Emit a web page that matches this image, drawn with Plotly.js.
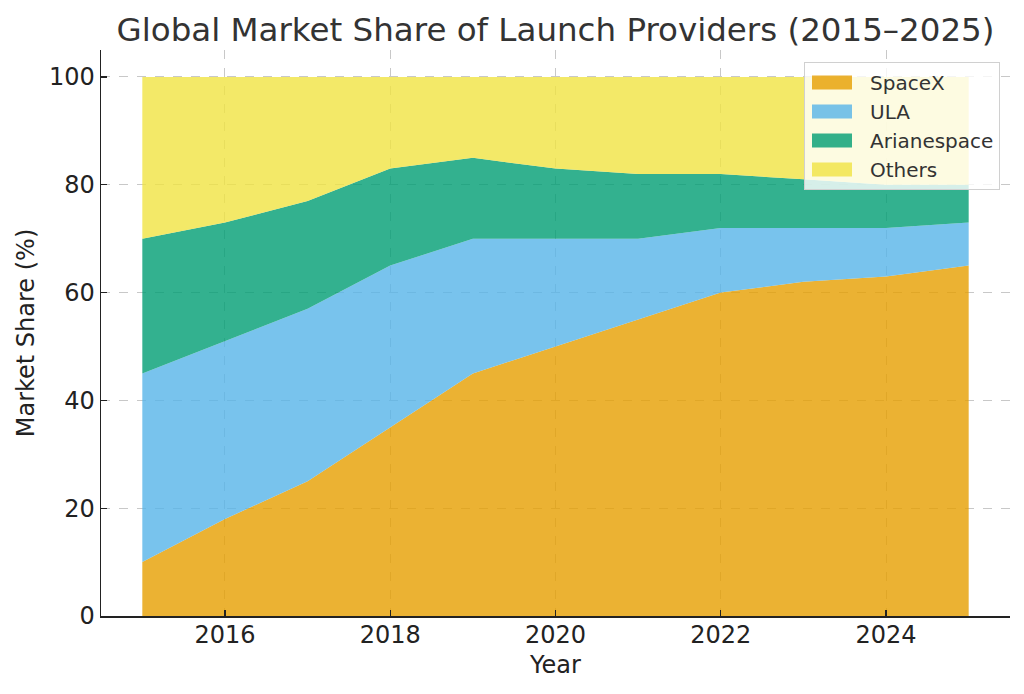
<!DOCTYPE html>
<html>
<head>
<meta charset="utf-8">
<script src="https://cdn.plot.ly/plotly-3.0.1.min.js"></script>
<style>html,body{margin:0;padding:0;background:#fff;}#chart{width:1024px;height:694px;}</style>
</head>
<body>
<div id="chart"></div>
<script>
const years = [2015, 2016, 2017, 2018, 2019, 2020, 2021, 2022, 2023, 2024, 2025];
const spacex = [10, 18, 25, 35, 45, 50, 55, 60, 62, 63, 65];
const ula = [35, 33, 32, 30, 25, 20, 15, 12, 10, 9, 8];
const arianespace = [25, 22, 20, 18, 15, 13, 12, 10, 9, 8, 7];
const others = [30, 27, 23, 17, 15, 17, 18, 18, 19, 20, 20];
const seriesNames = ['SpaceX', 'ULA', 'Arianespace', 'Others'];
const xTicks = [2016, 2018, 2020, 2022, 2024];
const yTicks = [0, 20, 40, 60, 80, 100];

const colors = ['rgba(230,159,0,0.8)', 'rgba(86,180,233,0.8)', 'rgba(0,158,115,0.8)', 'rgba(240,228,66,0.8)'];
const series = [spacex, ula, arianespace, others];

const traces = series.map((vals, i) => ({
  x: years,
  y: vals,
  name: seriesNames[i],
  legendgroup: 'g' + i,
  type: 'scatter',
  mode: 'lines',
  stackgroup: 'one',
  line: {width: 0, color: colors[i]},
  fillcolor: colors[i],
  hoverinfo: 'x+y+name'
}));

const font = 'DejaVu Sans, sans-serif';
const layout = {
  width: 1024,
  height: 694,
  margin: {l: 101, r: 14, t: 50, b: 78},
  paper_bgcolor: '#fff',
  plot_bgcolor: '#fff',
  font: {family: font, color: '#222'},
  title: {text: 'Global Market Share of Launch Providers (2015–2025)', font: {family: font, size: 32.5, color: '#333'}, x: 0.5425, xanchor: 'center', y: 0.958, yanchor: 'middle'},
  xaxis: {
    range: [2014.5, 2025.5],
    tickvals: xTicks,
    ticktext: xTicks.map(String),
    ticks: 'inside', ticklen: 6, tickwidth: 1.2, tickcolor: '#222',
    showline: true, linecolor: '#222', linewidth: 1.5,
    showgrid: true, gridcolor: '#c8c8c8', griddash: 'dash', gridwidth: 1,
    zeroline: false,
    ticklabelstandoff: -3,
    tickfont: {size: 24, color: '#222', family: font},
    title: {text: 'Year', font: {size: 24, color: '#222', family: font}, standoff: 8}
  },
  yaxis: {
    range: [0, 105],
    tickvals: yTicks,
    ticktext: yTicks.map(String),
    ticks: 'inside', ticklen: 6, tickwidth: 1.2, tickcolor: '#222',
    showline: true, linecolor: '#222', linewidth: 1.5,
    showgrid: true, gridcolor: '#c8c8c8', griddash: 'dash', gridwidth: 1,
    zeroline: false,
    tickfont: {size: 24, color: '#222', family: font},
    title: {text: 'Market Share (%)', font: {size: 24, color: '#222', family: font}, standoff: 7}
  },
  legend: {
    x: 0.989, xanchor: 'right', y: 0.9788, yanchor: 'top',
    bgcolor: 'rgba(255,255,255,0.8)', bordercolor: '#d0d0d0', borderwidth: 1,
    font: {size: 20, color: '#333', family: font},
    traceorder: 'normal',
    tracegroupgap: 6.5,
    itemwidth: 55
  },
  showlegend: true
};

Plotly.newPlot('chart', traces, layout, {displayModeBar: false, staticPlot: true}).then(gd => {
  gd.querySelectorAll('.legend .traces').forEach(tr => {
    const fill = tr.querySelector('.legendfill path');
    if (fill) fill.setAttribute('d', 'M7,-7h40v14h-40z');
    const ln = tr.querySelector('.legendlines path');
    if (ln) ln.setAttribute('d', 'M0,0h0');
  });
});
</script>
</body>
</html>
